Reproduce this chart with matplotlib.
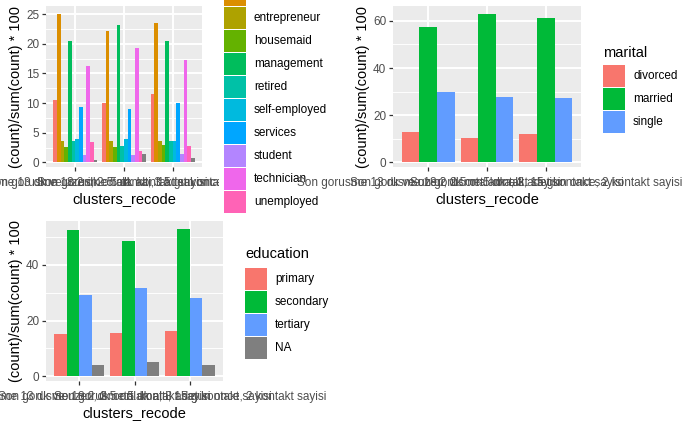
import matplotlib
matplotlib.use("Agg")
import matplotlib.pyplot as plt
from matplotlib.patches import Rectangle
import numpy as np

# ── Data (percent of each cluster) ────────────────────────────────────────────

clusters = [
    "Son gorusme 13 dk ve uzeri, 2.5 ort. kontakt sayisi",
    "Son gorusme 18.2 dk ortalama, 3 adet kontakt sayisi",
    "Son gorusme 5 dk alti, 15 gun once, 2 kontakt sayisi",
]

job_levels = ["admin.", "blue-collar", "entrepreneur", "housemaid", "management",
              "retired", "self-employed", "services", "student", "technician",
              "unemployed", "NA"]
job_c1 = [10.6, 25.0, 3.7, 2.6, 20.5, 3.7, 3.9, 9.4, 1.2, 16.2, 3.5, 0.5]
job_c2 = [10.1, 22.2, 3.7, 2.6, 23.2, 2.7, 3.9, 9.0, 1.2, 19.3, 1.9, 1.4]
job_c3 = [11.5, 23.5, 3.6, 2.9, 20.5, 3.7, 3.6, 10.0, 1.4, 17.3, 2.7, 0.7]

marital_levels = ["divorced", "married", "single"]
marital_c1 = [12.7, 57.6, 30.0]
marital_c2 = [10.2, 62.7, 27.5]
marital_c3 = [11.9, 61.4, 27.1]

edu_levels = ["primary", "secondary", "tertiary", "NA"]
edu_c1 = [15.1, 52.6, 29.0, 4.0]
edu_c2 = [15.4, 48.7, 31.5, 5.0]
edu_c3 = [16.1, 52.9, 28.0, 4.0]

# ggplot default hue palettes
JOB_COLORS = ["#F8766D", "#DB8E00", "#AEA200", "#64B200", "#00BD5C", "#00C1A7",
              "#00BADE", "#00A6FF", "#B385FF", "#EF67EB", "#FF63B6", "#7F7F7F"]
HUE3 = ["#F8766D", "#00BA38", "#619CFF"]
EDU_COLORS = HUE3 + ["#7F7F7F"]

# ── Style ──────────────────────────────────────────────────────────────────────

W, H, DPI = 694, 428, 100
FONT = "Liberation Sans"
TXT = 8.45      # ggplot 8.8pt at 96 dpi
TITLE = 10.56   # ggplot 11pt at 96 dpi
PANEL_BG = "#EBEBEB"
plt.rcParams.update({"font.family": [FONT, "DejaVu Sans"]})

fig = plt.figure(figsize=(W / DPI, H / DPI), dpi=DPI)
fig.patch.set_facecolor("white")


def fx(px):
    return px / W


def fy(py):
    return 1 - py / H


def place(ax, x0, y0, x1, y1):
    ax.set_position([fx(x0), fy(y1), fx(x1 - x0), (y1 - y0) / H])


def dodge_panel(ax, groups, colors, ylim, yticks):
    n = len(colors)
    w = 0.9 / n
    for i, vals in enumerate(groups):
        xs = i + (np.arange(n) - (n - 1) / 2) * w
        ax.bar(xs, vals, width=w, color=colors, linewidth=0, zorder=3)
    ax.set_facecolor(PANEL_BG)
    ax.set_xlim(-0.6, 2.6)
    ax.set_ylim(*ylim)
    ax.set_yticks(yticks)
    ax.set_yticklabels([str(t) for t in yticks])
    step = yticks[1] - yticks[0]
    minor = [t + step / 2 for t in yticks if t + step / 2 < ylim[1]]
    for m in minor:
        ax.axhline(m, color="white", lw=0.68, zorder=1)
    for t in yticks:
        ax.axhline(t, color="white", lw=1.37, zorder=2)
    for i in range(3):
        ax.axvline(i, color="white", lw=1.37, zorder=2)
    ax.set_xticks(range(3))
    ax.set_xticklabels(clusters)
    for s in ax.spines.values():
        s.set_visible(False)
    ax.tick_params(axis="both", colors="#333333", labelcolor="#4D4D4D",
                   labelsize=TXT, length=2.66, width=0.9, pad=2.1)
    ax.tick_params(axis="x", pad=4.8)
    ax.set_xlabel("clusters_recode", fontsize=TITLE, color="black", labelpad=2.0)
    ax.set_ylabel("(count)/sum(count) * 100", fontsize=TITLE, color="black",
                  labelpad=2.4)


def legend_box(x0, y_first, title, labels, colors, title_y=None, zorder=5):
    # ggplot-like legend: 22px square keys on a 23px pitch
    key, pitch = 22, 23
    if title is not None:
        fig.text(fx(x0), fy(title_y), title, fontsize=TITLE, color="black",
                 va="center", ha="left", zorder=zorder)
    for k, (lab, col) in enumerate(zip(labels, colors)):
        top = y_first + k * pitch
        fig.add_artist(Rectangle((fx(x0), fy(top + key)), fx(key), key / H,
                                 transform=fig.transFigure, facecolor=col,
                                 edgecolor="none", zorder=zorder))
        fig.text(fx(x0 + key + 8), fy(top + key / 2), lab, fontsize=TXT,
                 color="black", va="center", ha="left", zorder=zorder)


# ── Panel 1: job ──────────────────────────────────────────────────────────────

ax1 = fig.add_axes([0, 0, 1, 1], zorder=0)
dodge_panel(ax1, [job_c1, job_c2, job_c3], JOB_COLORS,
            (-0.76, 26.35), [0, 5, 10, 15, 20, 25])
place(ax1, 46, 6, 202, 167)

# white legend background hides the overlapping tick labels underneath
fig.add_artist(Rectangle((fx(219), fy(214)), fx(128), 214 / H,
                         transform=fig.transFigure, facecolor="white",
                         edgecolor="none", zorder=1))
legend_box(224, 7 - 2 * 23, "job", job_levels[:-1], JOB_COLORS[:-1],
           title_y=7 - 2 * 23 - 14, zorder=1.5)

# ── Panel 2: marital ──────────────────────────────────────────────────────────

ax2 = fig.add_axes([0, 0, 1, 1], zorder=2)
dodge_panel(ax2, [marital_c1, marital_c2, marital_c3], HUE3,
            (-1.98, 66.3), [0, 20, 40, 60])
place(ax2, 393, 6, 581, 167)
legend_box(603, 65, "marital", marital_levels, HUE3, title_y=53, zorder=3)

# ── Panel 3: education ────────────────────────────────────────────────────────

ax3 = fig.add_axes([0, 0, 1, 1], zorder=2)
dodge_panel(ax3, [edu_c1, edu_c2, edu_c3], EDU_COLORS,
            (-1.7, 55.7), [0, 20, 40])
place(ax3, 46, 221, 223, 381)
legend_box(245, 268, "education", edu_levels, EDU_COLORS, title_y=254, zorder=3)

fig.savefig("out.png", dpi=DPI)
